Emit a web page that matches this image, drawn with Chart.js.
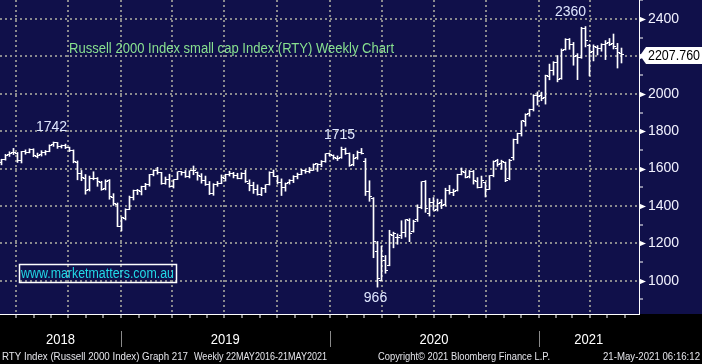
<!DOCTYPE html>
<html>
<head>
<meta charset="utf-8">
<title>Russell 2000 Index (RTY) Weekly Chart</title>
<script src="https://cdn.jsdelivr.net/npm/chart.js@4.4.1/dist/chart.umd.min.js"></script>
<style>
  html, body { margin: 0; padding: 0; background: #000; }
  canvas { display: block; }
</style>
</head>
<body>
<canvas id="rtyChart" width="702" height="364"></canvas>
<script>
// Weekly bars, dated by the Friday close
const weekDates = [
  '2018-06-01','2018-06-08','2018-06-15','2018-06-22','2018-06-29',
  '2018-07-06','2018-07-13','2018-07-20','2018-07-27',
  '2018-08-03','2018-08-10','2018-08-17','2018-08-24','2018-08-31',
  '2018-09-07','2018-09-14','2018-09-21','2018-09-28',
  '2018-10-05','2018-10-12','2018-10-19','2018-10-26',
  '2018-11-02','2018-11-09','2018-11-16','2018-11-23','2018-11-30',
  '2018-12-07','2018-12-14','2018-12-21','2018-12-28',
  '2019-01-04','2019-01-11','2019-01-18','2019-01-25',
  '2019-02-01','2019-02-08','2019-02-15','2019-02-22',
  '2019-03-01','2019-03-08','2019-03-15','2019-03-22','2019-03-29',
  '2019-04-05','2019-04-12','2019-04-19','2019-04-26',
  '2019-05-03','2019-05-10','2019-05-17','2019-05-24','2019-05-31',
  '2019-06-07','2019-06-14','2019-06-21','2019-06-28',
  '2019-07-05','2019-07-12','2019-07-19','2019-07-26',
  '2019-08-02','2019-08-09','2019-08-16','2019-08-23','2019-08-30',
  '2019-09-06','2019-09-13','2019-09-20','2019-09-27',
  '2019-10-04','2019-10-11','2019-10-18','2019-10-25',
  '2019-11-01','2019-11-08','2019-11-15','2019-11-22','2019-11-29',
  '2019-12-06','2019-12-13','2019-12-20','2019-12-27',
  '2020-01-03','2020-01-10','2020-01-17','2020-01-24','2020-01-31',
  '2020-02-07','2020-02-14','2020-02-21','2020-02-28',
  '2020-03-06','2020-03-13','2020-03-20','2020-03-27',
  '2020-04-03','2020-04-10','2020-04-17','2020-04-24',
  '2020-05-01','2020-05-08','2020-05-15','2020-05-22','2020-05-29',
  '2020-06-05','2020-06-12','2020-06-19','2020-06-26',
  '2020-07-03','2020-07-10','2020-07-17','2020-07-24','2020-07-31',
  '2020-08-07','2020-08-14','2020-08-21','2020-08-28',
  '2020-09-04','2020-09-11','2020-09-18','2020-09-25',
  '2020-10-02','2020-10-09','2020-10-16','2020-10-23','2020-10-30',
  '2020-11-06','2020-11-13','2020-11-20','2020-11-27',
  '2020-12-04','2020-12-11','2020-12-18','2020-12-25',
  '2021-01-01','2021-01-08','2021-01-15','2021-01-22','2021-01-29',
  '2021-02-05','2021-02-12','2021-02-19','2021-02-26',
  '2021-03-05','2021-03-12','2021-03-19','2021-03-26',
  '2021-04-02','2021-04-09','2021-04-16','2021-04-23','2021-04-30',
  '2021-05-07','2021-05-14','2021-05-21'
];

const openValues = [
  1634, 1648, 1673, 1684, 1680,
  1643, 1690, 1687, 1700,
  1667, 1673, 1686, 1693, 1727,
  1737, 1720, 1725, 1712,
  1698, 1634, 1573, 1548,
  1487, 1549, 1547, 1528, 1492,
  1535, 1446, 1410, 1290,
  1335, 1382, 1446, 1481,
  1480, 1502, 1514, 1569,
  1591, 1577, 1522, 1543, 1506,
  1542, 1582, 1578, 1556,
  1588, 1580, 1555, 1538, 1513,
  1466, 1516, 1522, 1549,
  1570, 1574, 1563, 1548,
  1576, 1520, 1511, 1490, 1460,
  1493, 1515, 1578, 1560,
  1526, 1499, 1523, 1534,
  1558, 1570, 1589, 1586, 1590,
  1625, 1621, 1638, 1680,
  1670, 1655, 1657, 1704, 1680,
  1620, 1660, 1688, 1640,
  1480, 1440, 1155, 1000,
  1110, 1080, 1240, 1232,
  1240, 1260, 1320, 1262, 1330,
  1394, 1530, 1360, 1420,
  1380, 1418, 1410, 1483, 1470,
  1482, 1570, 1580, 1556,
  1585, 1530, 1500, 1525,
  1490, 1565, 1641, 1625, 1630,
  1545, 1660, 1755, 1788,
  1851, 1893, 1918, 1990,
  1990, 1980, 2095, 2125, 2170,
  2080, 2235, 2290, 2263,
  2205, 2195, 2352, 2260,
  2225, 2250, 2245, 2262, 2272,
  2268, 2245, 2215
];

const highValues = [
  1650, 1676, 1690, 1708, 1686,
  1692, 1700, 1706, 1706,
  1683, 1696, 1697, 1727, 1742,
  1740, 1726, 1731, 1715,
  1700, 1641, 1590, 1568,
  1560, 1583, 1552, 1532, 1540,
  1541, 1466, 1416, 1341,
  1385, 1453, 1485, 1489,
  1506, 1521, 1569, 1593,
  1607, 1580, 1555, 1570, 1541,
  1583, 1585, 1590, 1588,
  1614, 1582, 1573, 1560, 1531,
  1519, 1531, 1566, 1570,
  1586, 1580, 1575, 1578,
  1591, 1540, 1527, 1513, 1499,
  1514, 1583, 1592, 1563,
  1545, 1523, 1541, 1562,
  1576, 1596, 1594, 1606, 1625,
  1627, 1643, 1680, 1684,
  1673, 1668, 1715, 1710, 1684,
  1676, 1694, 1708, 1654,
  1535, 1445, 1210, 1185,
  1135, 1270, 1260, 1250,
  1321, 1327, 1332, 1324, 1406,
  1530, 1536, 1441, 1445,
  1437, 1434, 1495, 1510, 1490,
  1570, 1603, 1590, 1590,
  1590, 1552, 1560, 1527,
  1563, 1641, 1650, 1645, 1635,
  1650, 1758, 1790, 1856,
  1893, 1918, 1995, 2010,
  2009, 2100, 2159, 2172, 2205,
  2240, 2295, 2296, 2275,
  2215, 2356, 2360, 2265,
  2262, 2258, 2268, 2285, 2296,
  2320, 2270, 2245
];

const lowValues = [
  1620, 1645, 1665, 1675, 1633,
  1630, 1677, 1684, 1664,
  1657, 1667, 1673, 1690, 1719,
  1708, 1710, 1707, 1691,
  1631, 1540, 1535, 1463,
  1480, 1540, 1505, 1484, 1486,
  1436, 1403, 1289, 1267,
  1325, 1380, 1432, 1461,
  1459, 1487, 1506, 1561,
  1570, 1516, 1516, 1500, 1496,
  1541, 1565, 1553, 1550,
  1567, 1538, 1522, 1510, 1461,
  1457, 1505, 1519, 1533,
  1560, 1550, 1545, 1545,
  1526, 1481, 1467, 1458, 1455,
  1472, 1512, 1557, 1517,
  1456, 1479, 1517, 1525,
  1545, 1567, 1575, 1577, 1590,
  1585, 1610, 1634, 1668,
  1650, 1643, 1655, 1676, 1612,
  1615, 1650, 1678, 1456,
  1425, 1123, 966, 1000,
  1040, 1080, 1176, 1195,
  1226, 1234, 1209, 1260, 1317,
  1385, 1366, 1346, 1377,
  1373, 1386, 1400, 1463, 1455,
  1480, 1566, 1550, 1550,
  1517, 1496, 1498, 1448,
  1488, 1556, 1612, 1596, 1530,
  1540, 1646, 1734, 1774,
  1827, 1880, 1908, 1940,
  1963, 1945, 2075, 2100, 2064,
  2078, 2234, 2238, 2153,
  2076, 2190, 2251, 2096,
  2176, 2208, 2228, 2183, 2258,
  2240, 2138, 2165
];

const closeValues = [
  1647, 1672, 1683, 1685, 1643,
  1690, 1687, 1700, 1668,
  1672, 1688, 1692, 1725, 1740,
  1719, 1724, 1714, 1696,
  1637, 1572, 1552, 1483,
  1549, 1549, 1530, 1488, 1533,
  1448, 1411, 1292, 1337,
  1380, 1447, 1482, 1482,
  1502, 1514, 1569, 1590,
  1578, 1522, 1543, 1505, 1540,
  1582, 1577, 1556, 1588,
  1590, 1562, 1536, 1514, 1466,
  1514, 1522, 1550, 1567,
  1576, 1562, 1547, 1575,
  1533, 1510, 1487, 1459, 1495,
  1513, 1579, 1559, 1524,
  1500, 1522, 1534, 1559,
  1569, 1590, 1585, 1590, 1624,
  1623, 1637, 1679, 1678,
  1660, 1656, 1700, 1683, 1614,
  1656, 1688, 1679, 1476,
  1449, 1210, 1014, 1131,
  1053, 1246, 1254, 1231,
  1260, 1327, 1254, 1316, 1394,
  1529, 1388, 1418, 1378,
  1413, 1403, 1482, 1471, 1480,
  1569, 1583, 1552, 1585,
  1536, 1497, 1535, 1487,
  1563, 1640, 1623, 1637, 1538,
  1644, 1754, 1786, 1855,
  1892, 1917, 1993, 1988,
  1975, 2097, 2123, 2168, 2074,
  2233, 2289, 2266, 2201,
  2192, 2352, 2286, 2221,
  2254, 2243, 2263, 2271, 2266,
  2252, 2221, 2207.76
];

// labelled price levels on the right axis (minor ticks every 100)
const priceLabels = [1000, 1200, 1400, 1600, 1800, 2000, 2200, 2400];
const yearLabels = ['2018', '2019', '2020', '2021'];

// swing high / low callouts
const calloutDates = ['2018-08-31', '2020-01-17', '2021-03-19', '2020-03-20'];
const calloutSides = ['high', 'high', 'high', 'low'];

const titleText = 'Russell 2000 Index small cap Index (RTY) Weekly Chart';
const siteText = 'www.marketmatters.com.au';
const footerTexts = [
  'RTY Index (Russell 2000 Index) Graph 217',
  'Weekly 22MAY2016-21MAY2021',
  'Copyright\u00a9 2021 Bloomberg Finance L.P.',
  '21-May-2021 06:16:12'
];

// ---- look ----
const FONT = '"Liberation Sans", Arial, sans-serif';
const NAVY = '#10104a';
const GRID = '#8a8a8e';
const EPOCH = Date.parse('2019-01-01');
const BAR_SHIFT = 5;            // bloomberg draws the weekly bar a few days after its friday
const X_MIN = -211.625;         // early Jun 2018
const X_MAX = 906.625;          // late Jun 2021
const calloutOffsets = [[-2, -15], [-2, -12], [-15, -14], [-2, 11]];
const footerPos = [[2, 186], [194, 133], [378, 172], [603, 97]];

function dayOf(s) {
    return (Date.parse(s) - EPOCH) / 864e5;
}

// month ticks on the time axis, grid on quarter starts
const monthTicks = [];
for (let yr = 2018; yr <= 2021; yr++) {
    for (let m = 0; m < 12; m++) {
        const v = (Date.UTC(yr, m, 1) - EPOCH) / 864e5;
        if (v >= X_MIN && v <= X_MAX) monthTicks.push({ value: v, quarter: m % 3 === 0 });
    }
}

function isLabelled(v) {
    return priceLabels.some(p => Math.abs(p - v) < 1e-6);
}

// open / close ticks on the high-low bars
const ohlcTicks = {
    id: 'ohlcTicks',
    afterDatasetsDraw(chart) {
        const { ctx, chartArea, scales: { x, y } } = chart;
        ctx.save();
        ctx.beginPath();
        ctx.rect(chartArea.left, chartArea.top, chartArea.width, chartArea.height);
        ctx.clip();
        ctx.strokeStyle = '#ffffff';
        ctx.lineWidth = 1;
        ctx.beginPath();
        weekDates.forEach((d, i) => {
            const px = Math.floor(x.getPixelForValue(dayOf(d) + BAR_SHIFT));
            const yo = Math.floor(y.getPixelForValue(openValues[i])) + 0.5;
            const yc = Math.floor(y.getPixelForValue(closeValues[i])) + 0.5;
            ctx.moveTo(px - 2, yo);
            ctx.lineTo(px, yo);
            ctx.moveTo(px + 1, yc);
            ctx.lineTo(px + 3, yc);
        });
        ctx.stroke();
        ctx.restore();
    }
};

const frame = {
    id: 'frame',
    beforeDraw(chart) {
        const { ctx, width, height, chartArea } = chart;
        ctx.save();
        ctx.fillStyle = '#000';
        ctx.fillRect(0, 0, width, height);
        ctx.fillStyle = NAVY;
        ctx.fillRect(0, 0, width, chartArea.bottom);
        ctx.restore();
    },
    afterDraw(chart) {
        const { ctx, chartArea, scales: { x, y } } = chart;
        const right = chartArea.right;
        ctx.save();

        // arrow heads on the labelled levels
        ctx.fillStyle = '#ffffff';
        priceLabels.forEach(v => {
            const py = Math.round(y.getPixelForValue(v)) + 0.5;
            ctx.beginPath();
            ctx.moveTo(right, py - 3);
            ctx.lineTo(right + 7, py);
            ctx.lineTo(right, py + 3);
            ctx.closePath();
            ctx.fill();
        });

        // last price tag
        const last = closeValues[closeValues.length - 1];
        const ly = y.getPixelForValue(last) + 0.5;
        ctx.beginPath();
        ctx.moveTo(right + 1, ly);
        ctx.lineTo(right + 7, ly - 8.5);
        ctx.lineTo(chart.width, ly - 8.5);
        ctx.lineTo(chart.width, ly + 8.5);
        ctx.lineTo(right + 7, ly + 8.5);
        ctx.closePath();
        ctx.fill();
        ctx.fillStyle = '#000';
        ctx.font = '14px ' + FONT;
        ctx.textBaseline = 'middle';
        ctx.textAlign = 'left';
        ctx.fillText(last.toFixed(3), right + 9, ly + 0.5, 52);

        // title and site box
        ctx.fillStyle = '#88e08f';
        ctx.fillText(titleText, 69, 49.5, 325);
        ctx.strokeStyle = '#ffffff';
        ctx.lineWidth = 1.5;
        ctx.strokeRect(19.5, 264.5, 157, 18);
        ctx.fillStyle = '#22d8e6';
        ctx.fillText(siteText, 21, 274, 153);

        // callouts
        ctx.fillStyle = '#dfe7ff';
        ctx.textAlign = 'center';
        calloutDates.forEach((d, i) => {
            const idx = weekDates.indexOf(d);
            const isHigh = calloutSides[i] === 'high';
            const v = isHigh ? highValues[idx] : lowValues[idx];
            const px = x.getPixelForValue(dayOf(d) + BAR_SHIFT) + calloutOffsets[i][0];
            const py = y.getPixelForValue(v) + calloutOffsets[i][1];
            ctx.fillText(String(Math.round(v)), px, py);
        });

        // years along the bottom
        const axisY = chartArea.bottom;
        yearLabels.forEach(yr => {
            const start = Math.max(dayOf(yr + '-01-01'), X_MIN);
            const end = Math.min(dayOf((+yr + 1) + '-01-01'), X_MAX);
            const cx = (x.getPixelForValue(start) + x.getPixelForValue(end)) / 2;
            ctx.fillStyle = '#ffffff';
            ctx.font = '14px ' + FONT;
            ctx.fillText(yr, cx, axisY + 26, 29);
            const b = dayOf(yr + '-01-01');
            if (b > X_MIN) {
                const bx = Math.round(x.getPixelForValue(b)) + 0.5;
                ctx.strokeStyle = '#8a8a8a';
                ctx.lineWidth = 1;
                ctx.beginPath();
                ctx.moveTo(bx, axisY + 17);
                ctx.lineTo(bx, axisY + 33);
                ctx.stroke();
            }
        });

        // footer
        ctx.textAlign = 'left';
        ctx.fillStyle = '#e4e4ea';
        ctx.font = '11px ' + FONT;
        footerTexts.forEach((t, i) => {
            ctx.fillText(t, footerPos[i][0], 357, footerPos[i][1]);
        });
        ctx.restore();
    }
};

document.addEventListener('DOMContentLoaded', function() {
    Chart.defaults.font.family = FONT;

    const ctx = document.getElementById('rtyChart').getContext('2d');
    new Chart(ctx, {
        type: 'bar',
        data: {
            datasets: [{
                label: 'RTY',
                data: weekDates.map((d, i) => ({ x: dayOf(d) + BAR_SHIFT, y: [lowValues[i], highValues[i]] })),
                backgroundColor: '#ffffff',
                borderWidth: 0,
                barThickness: 1
            }]
        },
        options: {
            responsive: false,
            animation: false,
            devicePixelRatio: 1,
            layout: { padding: 0, autoPadding: false },
            plugins: {
                legend: { display: false },
                tooltip: { enabled: false }
            },
            scales: {
                x: {
                    type: 'linear',
                    min: X_MIN,
                    max: X_MAX,
                    bounds: 'data',
                    offset: false,
                    afterBuildTicks: scale => { scale.ticks = monthTicks.map(t => ({ ...t })); },
                    afterFit: scale => {
                        scale.height = 50;
                        scale.paddingLeft = 0;
                        scale.paddingRight = 0;
                    },
                    grid: {
                        offset: false,
                        color: c => (c.tick && c.tick.quarter ? GRID : 'rgba(0,0,0,0)'),
                        lineWidth: 2,
                        tickColor: '#ffffff',
                        tickWidth: 1,
                        tickLength: 4
                    },
                    border: { display: true, color: '#ffffff', width: 1, dash: [2, 3] },
                    ticks: { display: false }
                },
                y: {
                    position: 'right',
                    min: 822,
                    max: 2502,
                    afterFit: scale => {
                        scale.width = 63;
                        scale.paddingTop = 0;
                        scale.paddingBottom = 0;
                    },
                    grid: {
                        color: c => (c.tick && isLabelled(c.tick.value) ? GRID : 'rgba(0,0,0,0)'),
                        lineWidth: 2,
                        tickColor: '#ffffff',
                        tickWidth: 1,
                        tickLength: 4
                    },
                    border: { display: true, color: '#ffffff', width: 1, dash: [2, 3] },
                    ticks: {
                        stepSize: 100,
                        includeBounds: false,
                        autoSkip: false,
                        padding: 5,
                        color: '#f2f2ff',
                        font: { family: FONT, size: 14 },
                        callback: v => (isLabelled(v) ? String(Math.round(v)) : '')
                    }
                }
            }
        },
        plugins: [frame, ohlcTicks]
    });
});
</script>
</body>
</html>
